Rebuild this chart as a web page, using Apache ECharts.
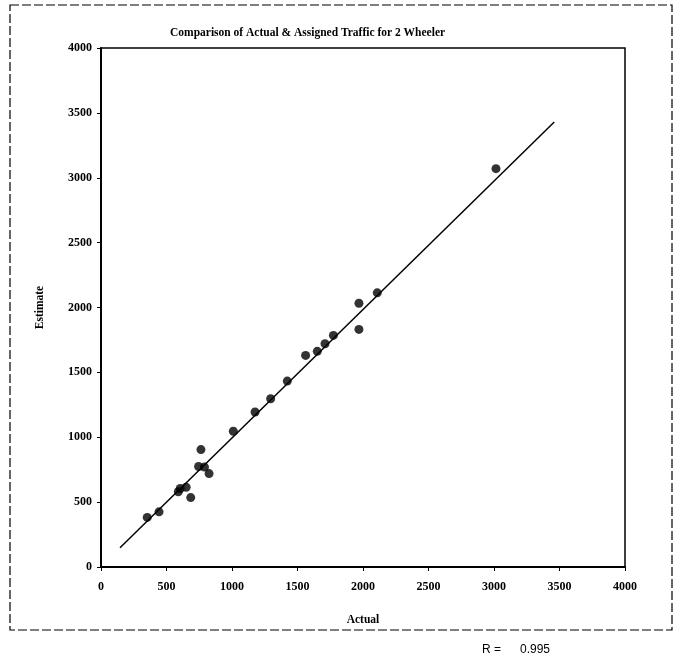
<!DOCTYPE html>
<html>
<head>
<meta charset="utf-8">
<script src="https://cdn.jsdelivr.net/npm/echarts@6/dist/echarts.min.js"></script>
<style>
  html, body { margin: 0; padding: 0; background: #fff; }
  #chart { width: 678px; height: 667px; }
</style>
</head>
<body>
<div id="chart"></div>
<script>
// observed traffic (Actual) vs model (Estimate)
let actual   = [353, 443, 590, 605, 650, 685, 745, 763, 790, 825, 1010, 1176, 1295, 1422, 1562, 1651, 1710, 1774, 1969, 1969, 2109, 3015];
let estimate = [382, 425, 580, 605, 615, 535, 775, 905, 770, 720, 1046, 1195, 1297, 1433, 1631, 1662, 1721, 1785, 2033, 1831, 2113, 3070];

// fitted line end points
let fit_x = [145, 3460];
let fit_y = [148, 3430];

let axis_ticks = [0, 500, 1000, 1500, 2000, 2500, 3000, 3500, 4000];
let r_value = '0.995';

let points = actual.map((d, i) => [d, estimate[i]]);
let fit_line = fit_x.map((d, i) => [d, fit_y[i]]);

let myChart = echarts.init(document.getElementById('chart'));
let serif = 'Liberation Serif';
let plain = v => String(v);   // no thousand separators

let option = {
    animation: false,
    backgroundColor: '#fff',
    grid: {
        left: 101,
        top: 48,
        right: 53,
        bottom: 100,
        show: true,
        borderColor: '#000',
        borderWidth: 1.5
    },
    xAxis: {
        type: 'value',
        min: axis_ticks[0],
        max: axis_ticks[axis_ticks.length - 1],
        interval: 500,
        name: 'Actual',
        nameLocation: 'middle',
        nameGap: 47,
        nameTextStyle: {color: '#000', fontFamily: serif, fontSize: 11.5, fontWeight: 'bold'},
        axisLine: {lineStyle: {color: '#000', width: 2}},
        axisTick: {show: true, length: 4, lineStyle: {color: '#000'}},
        axisLabel: {color: '#000', fontFamily: serif, fontSize: 12, fontWeight: 'bold', margin: 14, formatter: plain},
        splitLine: {show: false}
    },
    yAxis: {
        type: 'value',
        min: axis_ticks[0],
        max: axis_ticks[axis_ticks.length - 1],
        interval: 500,
        name: 'Estimate',
        nameLocation: 'middle',
        nameGap: 55,
        nameTextStyle: {color: '#000', fontFamily: serif, fontSize: 11.5, fontWeight: 'bold'},
        axisLine: {lineStyle: {color: '#000', width: 2}},
        axisTick: {show: true, length: 4, lineStyle: {color: '#000'}},
        axisLabel: {color: '#000', fontFamily: serif, fontSize: 12, fontWeight: 'bold', margin: 9, formatter: plain},
        splitLine: {show: false}
    },
    graphic: [
        {
            type: 'rect',
            shape: {x: 10, y: 5, width: 662, height: 625},
            style: {fill: 'none', stroke: '#000', lineWidth: 1.2, lineDash: [9, 3]},
            silent: true
        },
        {
            type: 'text',
            left: 170,
            top: 27,
            style: {
                text: 'Comparison of Actual & Assigned Traffic for 2 Wheeler',
                fill: '#000',
                font: 'bold 11.5px "Liberation Serif"'
            }
        },
        {
            type: 'text',
            left: 482,
            top: 644,
            style: {text: 'R =', fill: '#000', font: '12px "Liberation Sans"'}
        },
        {
            type: 'text',
            left: 520,
            top: 644,
            style: {text: r_value, fill: '#000', font: '12px "Liberation Sans"'}
        }
    ],
    series: [
        {
            name: 'fit',
            type: 'line',
            data: fit_line,
            symbol: 'none',
            lineStyle: {color: '#000', width: 1.5},
            z: 1
        },
        {
            name: 'points',
            type: 'scatter',
            data: points,
            symbol: 'circle',
            symbolSize: 9,
            itemStyle: {color: '#000'},
            z: 2
        }
    ]
};

myChart.setOption(option);
</script>
</body>
</html>
